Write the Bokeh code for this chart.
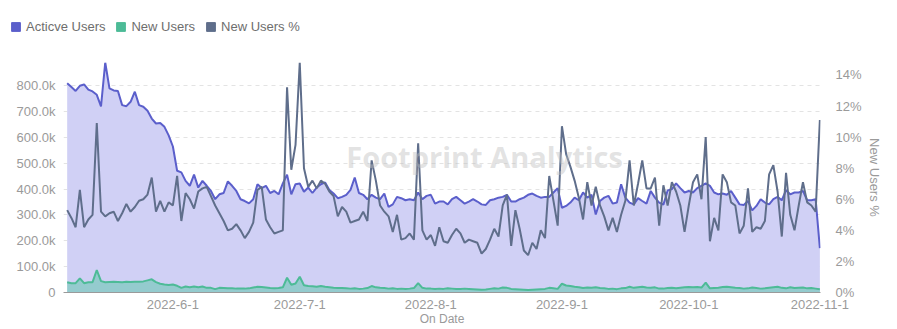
import pandas as pd
from bokeh.plotting import figure
from bokeh.layouts import column
from bokeh.models import (Range1d, LinearAxis, FixedTicker, CustomJSTickFormatter,
                          PrintfTickFormatter, Legend, LegendItem, Label, ColumnDataSource)
from bokeh.embed import file_html
from bokeh.resources import INLINE

# ---------------- data ----------------
start_date = "2022-05-07"

active_users_k = [
    810, 795, 780, 800, 805, 785, 778, 765, 720, 890, 790, 782, 780, 725, 721, 738, 777, 725, 719, 703,
    673, 654, 656, 641, 608, 565, 471, 465, 432, 413, 456, 406, 432, 413, 393, 361,
    380, 385, 430, 413, 393, 361, 354, 345, 361, 419, 404, 413, 385, 393, 380, 422, 456, 380, 419, 422,
    390, 406, 385, 406, 419, 426, 397, 383, 365, 370, 378, 397, 445, 385, 378,
    361, 378, 367, 361, 383, 331, 341, 370, 365, 357, 361, 357, 387, 361, 374, 378, 344, 352, 352, 341,
    361, 370, 357, 344, 352, 361, 352, 341, 339, 357, 361, 367, 370, 378, 352,
    352, 361, 367, 378, 383, 374, 367, 370, 370, 387, 404, 328, 335, 348, 367, 357, 387, 367, 378, 302,
    354, 367, 374, 344, 348, 419, 367, 348, 341, 365, 354, 344, 393, 367, 348,
    340, 395, 400, 422, 404, 387, 393, 387, 404, 413, 422, 413, 387, 380, 383, 378, 393, 367, 341, 339,
    354, 318, 335, 361, 348, 341, 361, 370, 357, 396, 380, 387, 387, 393, 357, 357, 361, 172,
]

new_users_k = [
    40, 36, 36, 55, 36, 40, 40, 87, 44, 40, 41, 42, 41, 40, 42, 41, 42, 42, 43, 47,
    51, 40, 34, 31, 29, 31, 26, 18, 23, 20, 23, 20, 23, 18, 18, 13,
    18, 17, 16, 16, 15, 15, 15, 16, 19, 22, 21, 19, 17, 16, 17, 20, 57, 30, 35, 61,
    28, 25, 24, 22, 25, 22, 20, 18, 17, 17, 16, 15, 16, 14, 15,
    17, 25, 20, 18, 17, 15, 16, 14, 15, 14, 15, 17, 36, 18, 15, 15, 14, 15, 14, 16,
    15, 14, 14, 15, 14, 13, 12, 11, 12, 14, 16, 15, 19, 18, 14,
    13, 12, 11, 10, 11, 12, 13, 14, 18, 16, 14, 34, 27, 25, 22, 20, 17, 19, 18, 20,
    17, 16, 14, 15, 13, 16, 17, 22, 18, 20, 22, 19, 18, 20, 15,
    15, 17, 18, 16, 18, 20, 21, 20, 21, 19, 38, 16, 17, 18, 21, 22, 20, 18, 17, 15,
    16, 19, 17, 15, 16, 18, 20, 22, 18, 16, 20, 17, 18, 19, 16, 17, 15, 13,
]

new_users_pct = [
    5.3, 4.8, 4.2, 6.6, 4.2, 4.7, 5.0, 10.9, 5.2, 4.9, 5.1, 5.2, 4.6, 5.1, 5.7, 5.2, 5.5, 5.9, 6.0, 6.3,
    7.4, 5.2, 5.9, 5.2, 5.8, 5.6, 7.5, 4.6, 6.4, 6.0, 5.4, 6.5, 6.7, 6.8, 6.2, 5.6,
    5.1, 4.6, 4.0, 4.1, 4.4, 4.0, 3.5, 3.9, 4.5, 6.6, 6.8, 4.7, 4.2, 3.8, 3.9, 4.0, 13.2, 7.9, 9.5, 14.8,
    8.0, 6.8, 7.2, 6.7, 7.2, 7.0, 6.5, 6.2, 4.9, 5.5, 5.2, 4.5, 4.6, 4.7, 5.2,
    4.6, 8.5, 7.2, 5.6, 5.2, 4.9, 3.9, 5.0, 3.4, 3.5, 3.8, 3.4, 9.6, 4.0, 3.4, 3.7, 3.0, 4.2, 3.3, 3.2,
    3.7, 4.1, 3.8, 3.2, 3.4, 3.3, 3.2, 2.5, 2.8, 3.4, 4.1, 3.6, 5.6, 6.3, 3.0,
    5.3, 4.1, 2.7, 2.4, 3.2, 2.8, 4.0, 3.5, 7.5, 5.9, 4.3, 10.7, 8.9, 8.1, 7.2, 6.1, 4.7, 7.1, 5.6, 6.8,
    5.6, 4.9, 4.0, 4.8, 3.9, 5.0, 5.9, 8.5, 5.6, 7.0, 8.5, 6.7, 6.7, 7.4, 4.3,
    6.9, 5.6, 7.1, 6.5, 5.6, 3.9, 5.6, 7.1, 7.6, 6.0, 10.0, 3.3, 4.8, 4.0, 7.6, 7.1, 5.8, 5.6, 3.8, 4.3,
    6.7, 3.9, 4.2, 4.1, 4.6, 7.6, 8.2, 6.5, 3.6, 7.7, 5.0, 4.0, 5.6, 7.1, 5.8, 5.6, 5.2, 11.1,
]

x_tick_dates = ["2022-06-01", "2022-07-01", "2022-08-01", "2022-09-01", "2022-10-01", "2022-11-01"]
left_ticks_k = [0, 100, 200, 300, 400, 500, 600, 700, 800]
right_ticks_pct = [0, 2, 4, 6, 8, 10, 12, 14]

series_names = ["Acticve Users", "New Users", "New Users %"]

# ---------------- styles ----------------
C_ACTIVE = "#5b5fcb"
C_ACTIVE_FILL = "#d0d0f5"
C_NEW = "#4dbb97"
C_NEW_FILL = "#6cc8b4"
C_PCT = "#5f6e8b"
TICK_COL = "#9a9a9a"
FONT = "Liberation Sans"

n = len(active_users_k)
dates = pd.date_range(start_date, periods=n, freq="D")
src = ColumnDataSource(dict(
    date=dates,
    active=[v * 1000 for v in active_users_k],
    new=[v * 1000 for v in new_users_k],
    pct=new_users_pct,
    zero=[0] * n,
))

DAY = 86400000
x0 = dates[0].timestamp() * 1000 - 0.87 * DAY
x1 = dates[-1].timestamp() * 1000 + 0.15 * DAY

# ---------------- legend strip (top) ----------------
top = figure(width=897, height=62, output_backend="svg", toolbar_location=None,
             x_range=Range1d(0, 1), y_range=Range1d(0, 1),
             x_axis_location=None, y_axis_location=None,
             min_border_left=0, min_border_right=0, min_border_top=0, min_border_bottom=0)
top.frame_align = False
top.outline_line_color = None
top.xgrid.visible = False
top.ygrid.visible = False
# swatch renderers sit outside the visible range; only their legend squares show
sw = []
for c in [C_ACTIVE, C_NEW, C_PCT]:
    sw.append(top.quad(left=[-3], right=[-2], bottom=[-3], top=[-2], fill_color=c, line_color=c))
legend = Legend(items=[LegendItem(label=series_names[i], renderers=[sw[i]]) for i in range(3)],
                location=(10, 28), orientation="horizontal",
                glyph_width=11, glyph_height=11, label_standoff=5, spacing=10,
                padding=0, margin=0, border_line_color=None, background_fill_alpha=0,
                label_text_font=FONT, label_text_font_size="13px", label_text_color="#6e6e6e")
top.add_layout(legend, "center")

# ---------------- main chart ----------------
p = figure(width=897, height=267, x_axis_type="datetime", output_backend="svg",
           toolbar_location=None,
           x_range=Range1d(x0, x1), y_range=Range1d(0, max(active_users_k) * 1000),
           min_border_left=63, min_border_right=77, min_border_top=0, min_border_bottom=37)
p.frame_align = False
p.outline_line_color = None
p.background_fill_color = "white"
p.border_fill_color = "white"

p.extra_y_ranges = {"pct": Range1d(0, max(new_users_pct))}

# areas
p.varea(x="date", y1="zero", y2="active", source=src, fill_color=C_ACTIVE_FILL, fill_alpha=1.0)
p.varea(x="date", y1="zero", y2="new", source=src, fill_color=C_NEW_FILL, fill_alpha=0.6)
# lines
p.line(x="date", y="active", source=src, line_color=C_ACTIVE, line_width=2)
p.line(x="date", y="new", source=src, line_color=C_NEW, line_width=2)
p.line(x="date", y="pct", source=src, line_color=C_PCT, line_width=2, y_range_name="pct")

# watermark
p.add_layout(Label(x=dates[66].timestamp() * 1000, y=525000, text="Footprint Analytics",
                   text_font="Open Sans", text_font_size="29px", text_font_style="bold",
                   text_color="#c0c0c0", text_alpha=0.45, text_baseline="middle", text_align="left"))

# axes
xa = p.xaxis[0]
xa.ticker = FixedTicker(ticks=[pd.Timestamp(d).timestamp() * 1000 for d in x_tick_dates])
xa.formatter = CustomJSTickFormatter(code="""
const d = new Date(tick);
return d.getUTCFullYear() + '-' + (d.getUTCMonth() + 1) + '-' + d.getUTCDate();
""")
xa.axis_line_color = "#9a9a9a"
xa.major_tick_line_color = None
xa.minor_tick_line_color = None
xa.major_tick_out = 0
xa.major_tick_in = 0
xa.minor_tick_out = 0
xa.major_label_text_color = TICK_COL
xa.major_label_text_font = FONT
xa.major_label_text_font_size = "13px"
xa.major_label_standoff = 7
xa.axis_label = "On Date"
xa.axis_label_text_font = FONT
xa.axis_label_text_font_size = "12px"
xa.axis_label_text_font_style = "normal"
xa.axis_label_text_color = TICK_COL
xa.axis_label_standoff = 0

ya = p.yaxis[0]
ya.ticker = FixedTicker(ticks=[v * 1000 for v in left_ticks_k])
ya.formatter = CustomJSTickFormatter(code="return tick == 0 ? '0' : (tick/1000).toFixed(1) + 'k';")
ya.axis_line_color = None
ya.major_tick_line_color = None
ya.minor_tick_line_color = None
ya.major_tick_out = 0
ya.major_tick_in = 0
ya.minor_tick_out = 0
ya.major_label_text_color = TICK_COL
ya.major_label_text_font = FONT
ya.major_label_text_font_size = "13px"
ya.major_label_standoff = 8

ra = LinearAxis(y_range_name="pct", ticker=FixedTicker(ticks=right_ticks_pct),
                formatter=PrintfTickFormatter(format="%d%%"))
ra.axis_line_color = None
ra.major_tick_line_color = None
ra.minor_tick_line_color = None
ra.major_tick_out = 0
ra.major_tick_in = 0
ra.minor_tick_out = 0
ra.major_label_text_color = TICK_COL
ra.major_label_text_font = FONT
ra.major_label_text_font_size = "13px"
ra.major_label_standoff = 15
ra.axis_label = series_names[2]
ra.axis_label_text_font = FONT
ra.axis_label_text_font_size = "13px"
ra.axis_label_text_font_style = "normal"
ra.axis_label_text_color = TICK_COL
ra.axis_label_standoff = 2
p.add_layout(ra, "right")

p.xgrid.visible = False
p.ygrid.ticker = FixedTicker(ticks=[v * 1000 for v in left_ticks_k[1:]])
p.ygrid.grid_line_color = "#e3e3e3"
p.ygrid.grid_line_dash = "4 4"

layout = column(top, p, spacing=0)
open("out.html", "w").write(file_html(layout, INLINE))
